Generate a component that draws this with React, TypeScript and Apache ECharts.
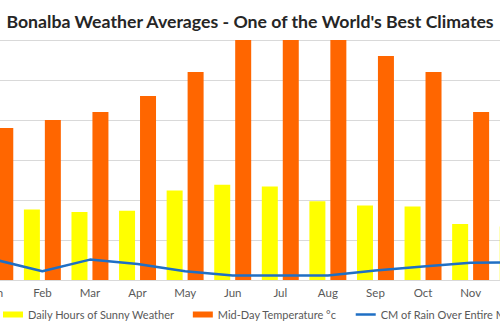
import React, { useEffect, useRef } from "react";
import * as echarts from "echarts";

const months = ["Jan", "Feb", "Mar", "Apr", "May", "Jun", "Jul", "Aug", "Sep", "Oct", "Nov", "Dec"];
const sunnyHours = [7.0, 8.8, 8.5, 8.65, 11.2, 11.9, 11.7, 9.85, 9.3, 9.2, 7.0, 6.7];
const midDayTemp = [19, 20, 21, 23, 26, 30, 30, 30, 28, 26, 21, 19];
const rainCm = [2.55, 1.1, 2.55, 2.0, 1.1, 0.55, 0.55, 0.55, 1.2, 1.7, 2.15, 2.2];

const titleText = "Bonalba Weather Averages - One of the World's Best Climates";
const seriesNames = ["Daily Hours of Sunny Weather", "Mid-Day Temperature °c", "CM of Rain Over Entire Month"];

// The chart is wider than the visible window: the plot spans x = -29 .. 542.
const OFFSET = 42;

export default function App() {
  const ref = useRef<HTMLDivElement>(null);
  useEffect(() => {
    if (!ref.current) return;
    const chart = echarts.init(ref.current, undefined, { renderer: "svg" });
    const font = "Lato";
    chart.setOption({
      animation: false,
      backgroundColor: "#ffffff",
      title: {
        text: titleText,
        left: "center",
        top: 7,
        textStyle: { fontFamily: font, fontWeight: "bold", fontSize: 17.7, color: "#262626" },
      },
      legend: {
        top: 304,
        left: OFFSET - 2,
        width: 800,
        itemWidth: 20,
        itemHeight: 6,
        itemGap: 18,
        textStyle: { fontFamily: font, fontSize: 11, color: "#595959" },
        data: [
          { name: seriesNames[0], icon: "rect" },
          { name: seriesNames[1], icon: "rect" },
          { name: seriesNames[2], itemStyle: { opacity: 0 }, lineStyle: { width: 2.5 } },
        ],
      },
      grid: { left: OFFSET - 29, right: 0, top: 40, bottom: 44, containLabel: false },
      xAxis: {
        type: "category",
        data: months,
        axisLine: { show: true, lineStyle: { color: "#d9d9d9" } },
        axisTick: { show: false },
        axisLabel: { fontFamily: font, fontSize: 11.5, color: "#595959", margin: 6 },
      },
      yAxis: {
        type: "value",
        min: 0,
        max: 30,
        interval: 5,
        axisLabel: { show: false },
        axisLine: { show: false },
        axisTick: { show: false },
        splitLine: { lineStyle: { color: "#d9d9d9", width: 1 } },
      },
      series: [
        {
          name: seriesNames[0],
          type: "bar",
          data: sunnyHours,
          barWidth: 16,
          barGap: "31%",
          itemStyle: { color: "#ffff00" },
        },
        {
          name: seriesNames[1],
          type: "bar",
          data: midDayTemp,
          barWidth: 16,
          barGap: "31%",
          itemStyle: { color: "#ff6600" },
        },
        {
          name: seriesNames[2],
          type: "line",
          data: rainCm,
          symbol: "none",
          smooth: false,
          lineStyle: { color: "#1f6fc4", width: 2.5 },
          itemStyle: { color: "#1f6fc4" },
        },
      ],
    });
    return () => chart.dispose();
  }, []);
  return (
    <div style={{ position: "fixed", left: 0, top: 0, width: 500, height: 324, overflow: "hidden", background: "#fff" }}>
      <div ref={ref} style={{ position: "absolute", left: -OFFSET, top: 0, width: 500 + 2 * OFFSET, height: 324 }} />
    </div>
  );
}
